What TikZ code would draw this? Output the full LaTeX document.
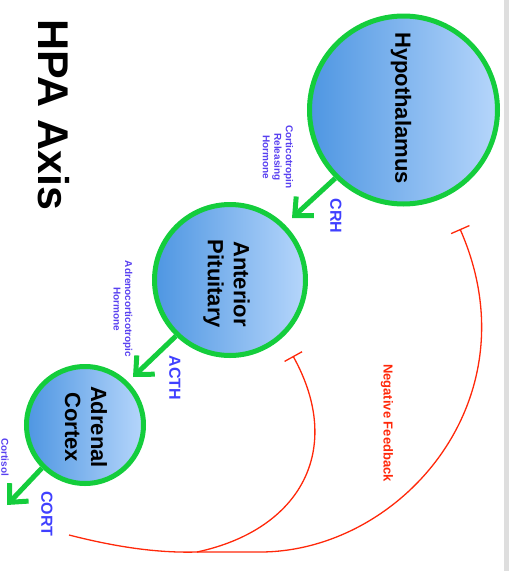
\documentclass[tikz,border=0pt]{standalone}
\usepackage{fontspec}
\setmainfont{Liberation Sans}
\usetikzlibrary{arrows.meta}
\definecolor{ringgreen}{RGB}{20,205,60}
\definecolor{bluedark}{RGB}{78,150,226}
\definecolor{bluelight}{RGB}{182,214,251}
\definecolor{labelblue}{RGB}{64,64,255}
\definecolor{smallblue}{RGB}{88,64,240}
\definecolor{fbred}{RGB}{255,40,10}
\definecolor{edgegray}{RGB}{222,222,222}
\begin{document}
\begin{tikzpicture}[x=1pt,y=1pt,
  organ/.style={circle, draw=ringgreen, line width=5pt, left color=bluedark, right color=bluelight, inner sep=0pt},
  organtext/.style={rotate=-90, font=\fontsize{22}{26}\selectfont\bfseries, align=center, text=black},
  hormone/.style={rotate=-90, font=\fontsize{16}{18}\selectfont\bfseries, text=labelblue},
  fullname/.style={rotate=-90, font=\fontsize{10}{11.5}\selectfont\bfseries, text=smallblue, align=center},
  signal/.style={draw=ringgreen, line width=5pt, -{Straight Barb[length=14pt,width=26pt]}},
  feedback/.style={draw=fbred, line width=1.3pt},
]
\useasboundingbox (0,0) rectangle (509,-571);
\fill[edgegray] (504,0) rectangle (509,-571);

% organs
\node[organ, minimum size=188pt] (hyp) at (403.5,-110) {};
\node[organ, minimum size=151pt] (pit) at (230,-280) {};
\node[organ, minimum size=117pt] (adr) at (85,-425) {};

\node[organtext] (hyptext) at (401,-108) {Hypothalamus};
\node[organtext] (pittext) at (226.5,-284) {Anterior\\Pituitary};
\node[organtext] (adrtext) at (86,-427) {Adrenal\\Cortex};

% signals
\coordinate (crhtip) at (292,-218);
\coordinate (acthtip) at (133,-377);
\coordinate (corttip) at (7,-505);
\draw[signal] (hyp.225) -- (crhtip);
\draw[signal] (pit.226) -- (acthtip);
\draw[signal] (adr.225) -- (corttip);

% labels
\node[hormone] (crh) at (336,-216) {CRH};
\node[hormone] (acth) at (175,-378) {ACTH};
\node[hormone] (cort) at (47,-514) {CORT};
\node[fullname] (crhname) at (278,-157) {Corticotropin\\Releasing\\Hormone};
\node[fullname] (acthname) at (123,-309) {Adrenocorticotropic\\Hormone};
\node[fullname] (cortname) at (5,-457) {Cortisol};

% title
\node[rotate=-90, font=\fontsize{43}{50}\selectfont\bfseries, text=black] (title) at (54,-115) {HPA Axis};

% negative feedback
\node[rotate=-90, font=\fontsize{13}{15}\selectfont\bfseries, text=fbred] (fblabel) at (387,-423) {Negative Feedback};
\coordinate (fbstart) at (69,-535);
\coordinate (fbjoin) at (197,-552);
\coordinate (pitT) at (293,-356);
\coordinate (hypT) at (460,-229);
\draw[feedback] (fbstart) .. controls (120,-548) and (160,-553) .. (fbjoin);
\draw[feedback, -{Bar[width=20pt]}] (fbjoin) .. controls (300,-530) and (345,-450) .. (pitT);
\draw[feedback, -{Bar[width=20pt]}] (fbjoin) -- (260,-552) .. controls (400,-552) and (535,-400) .. (hypT);
\end{tikzpicture}
\end{document}
